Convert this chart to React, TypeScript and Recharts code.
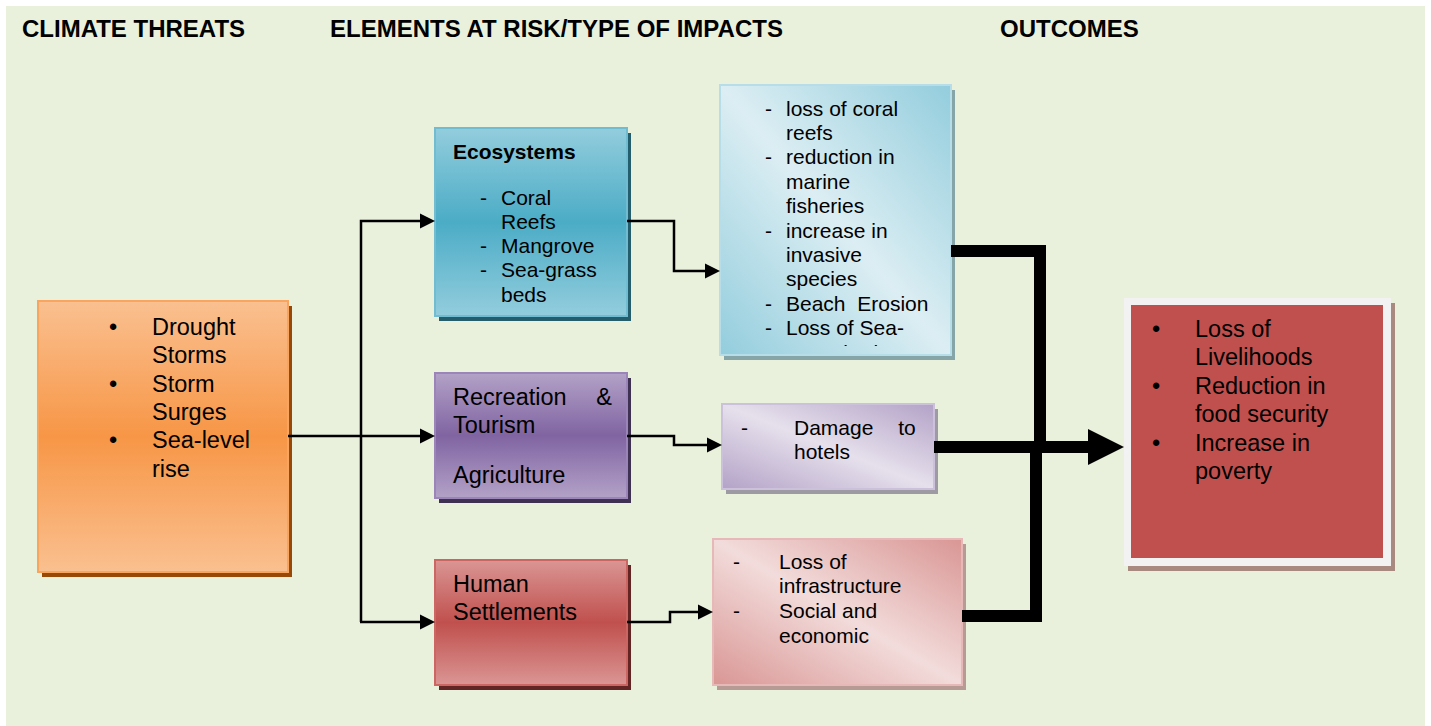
import React from 'react';
import { ComposedChart, XAxis, YAxis, Scatter, ReferenceArea } from 'recharts';

// ---- content ----
const headers = ['CLIMATE THREATS', 'ELEMENTS AT RISK/TYPE OF IMPACTS', 'OUTCOMES'];
const climateThreats = [['Drought', 'Storms'], ['Storm', 'Surges'], ['Sea-level', 'rise']];
const ecosystemTitle = 'Ecosystems';
const ecosystems = [['Coral', 'Reefs'], ['Mangrove'], ['Sea-grass', 'beds']];
const tourismLines = [['Recreation &', 'Tourism']];
const agricultureLines = [['Agriculture']];
const settlementLines = [['Human', 'Settlements']];
const ecosystemImpacts = [
    ['loss of coral', 'reefs'],
    ['reduction in', 'marine', 'fisheries'],
    ['increase in', 'invasive', 'species'],
    ['Beach  Erosion'],
    ['Loss of Sea-', 'grass beds'],
];
const tourismImpacts = [['Damage to', 'hotels']];
const settlementImpacts = [['Loss of', 'infrastructure'], ['Social and', 'economic']];
const outcomes = [['Loss of', 'Livelihoods'], ['Reduction in', 'food security'], ['Increase in', 'poverty']];

// ---- layout (page pixels) ----
const W = 1431;
const H = 726;
const FONT = '"Liberation Sans", Arial, Helvetica, sans-serif';

const headerX = [22, 330, 1000];

const textBlocks = [
    { items: climateThreats, marker: '\u2022', markerX: 109, x: 152, y0: 327, step: 28.3, size: 23.5 },
    { items: [[ecosystemTitle]], x: 453, y0: 151, step: 24, size: 21, weight: 'bold' },
    { items: ecosystems, marker: '-', markerX: 480, x: 501, y0: 197, step: 24.3, size: 21 },
    { items: tourismLines, x: 453, y0: 397, step: 28, size: 23.5, ws: 23 },
    { items: agricultureLines, x: 453, y0: 475, step: 28, size: 23.5 },
    { items: settlementLines, x: 453, y0: 584, step: 27.5, size: 23.5 },
    { items: ecosystemImpacts, marker: '-', markerX: 765, x: 786, y0: 108, step: 24.4, size: 21, clip: 'clip-eco-impacts' },
    { items: tourismImpacts, marker: '-', markerX: 741, x: 794, y0: 427, step: 24, size: 21, ws: 19 },
    { items: settlementImpacts, marker: '-', markerX: 733, x: 779, y0: 561, step: 24.7, size: 21 },
    { items: outcomes, marker: '\u2022', markerX: 1152, x: 1195, y0: 329, step: 28.4, size: 23.5 },
];

const boxLayout = [
    { id: 'threats', x1: 38, x2: 288, y1: 301, y2: 572, fill: 'vertical', light: '#FAC090', dark: '#F79646', border: '#F9A55F', shadow: '#984807' },
    { id: 'eco', x1: 435, x2: 627, y1: 128, y2: 316, fill: 'vertical', light: '#93CDDD', dark: '#4BACC6', border: '#72BCD2', shadow: '#245E6D' },
    { id: 'tourism', x1: 435, x2: 627, y1: 373, y2: 498, fill: 'vertical', light: '#B3A2C7', dark: '#8064A2', border: '#9A84B8', shadow: '#3F3151' },
    { id: 'settle', x1: 435, x2: 627, y1: 560, y2: 685, fill: 'vertical', light: '#DA9694', dark: '#C0504D', border: '#CB6663', shadow: '#632523' },
    { id: 'ecoImp', x1: 720, x2: 951, y1: 85, y2: 355, fill: 'diagonal', light: '#DCEEF3', dark: '#93CDDD', border: '#B7DEE8', shadow: '#86A5A9' },
    { id: 'tourImp', x1: 722, x2: 934, y1: 404, y2: 489, fill: 'diagonal', light: '#E6E0EC', dark: '#B3A2C7', border: '#CCC1DA', shadow: '#9E9AA3' },
    { id: 'setImp', x1: 713, x2: 962, y1: 539, y2: 685, fill: 'diagonal', light: '#F2DCDB', dark: '#D99694', border: '#E6B9B8', shadow: '#B89A95' },
    { id: 'outFrame', x1: 1124, x2: 1391, y1: 298, y2: 566, fill: 'flat', light: '#F2F2F2', dark: '#F2F2F2', border: 'none', shadow: '#A88A80' },
    { id: 'outInner', x1: 1131, x2: 1383, y1: 305, y2: 558, fill: 'flat', light: '#C0504D', dark: '#C0504D', border: 'none', shadow: 'none' },
];

const ecoImpactClip = { x1: 720, x2: 951, y1: 85, y2: 346 };

// connectors: polylines, arrow at the last point
const connectors = [
    { pts: [[288, 436], [435, 436]], width: 2.5, arrow: [15, 7.5] },
    { pts: [[361, 622], [361, 221], [435, 221]], width: 2.5, arrow: [15, 7.5] },
    { pts: [[360, 622], [435, 622]], width: 2.5, arrow: [15, 7.5] },
    { pts: [[627, 221], [674, 221], [674, 271], [720, 271]], width: 2.5, arrow: [15, 7.5] },
    { pts: [[627, 436], [674, 436], [674, 445], [722, 445]], width: 2.5, arrow: [15, 7.5] },
    { pts: [[627, 622], [670, 622], [670, 612], [713, 612]], width: 2.5, arrow: [15, 7.5] },
    { pts: [[951, 251], [1040, 251], [1040, 447]], width: 12 },
    { pts: [[962, 616], [1036, 616], [1036, 447]], width: 12 },
    { pts: [[934, 447], [1124, 447]], width: 12, arrow: [36, 18] },
];

// ---- build tables ----
type Row = { x: number; y: number; text: string; size: number; weight?: string; clip?: string; ws?: number };

const textRows: Row[] = [];
headers.forEach((h, i) => textRows.push({ x: headerX[i], y: 28, text: h, size: 24, weight: 'bold' }));
textBlocks.forEach((b) => {
    let line = 0;
    b.items.forEach((item) => {
        item.forEach((t, j) => {
            const y = b.y0 + line * b.step;
            if (j === 0 && b.marker) textRows.push({ x: b.markerX, y, text: b.marker, size: b.size, clip: b.clip });
            textRows.push({ x: b.x, y, text: t, size: b.size, weight: b.weight, clip: b.clip, ws: j === 0 ? b.ws : undefined });
            line += 1;
        });
    });
});

const lineData = connectors.map((c) => {
    const pts = c.pts.map(([x, y]) => ({ x, y }));
    if (!c.arrow) return { pts, head: null };
    const tip = pts[pts.length - 1];
    const prev = pts[pts.length - 2];
    const len = Math.hypot(tip.x - prev.x, tip.y - prev.y);
    const dx = (tip.x - prev.x) / len;
    const dy = (tip.y - prev.y) / len;
    const trimmed = pts.slice(0, -1).concat([{ x: tip.x - dx * (c.arrow[0] - 1), y: tip.y - dy * (c.arrow[0] - 1) }]);
    return { pts: trimmed, head: { x: tip.x, y: tip.y, dx, dy, len: c.arrow[0], half: c.arrow[1] } };
});
const arrowHeads = lineData.filter((d) => d.head).map((d) => d.head);

// ---- renderers ----
const renderBox = (b: any) => (props: any) => {
    const { x, y, width, height } = props;
    const gid = `grad-${b.id}`;
    const diag = b.fill === 'diagonal';
    return (
        <g>
            <defs>
                <linearGradient id={gid} x1={diag ? 1 : 0} y1={0} x2={0} y2={1}>
                    <stop offset="0" stopColor={diag ? b.dark : b.light} />
                    <stop offset="0.5" stopColor={diag ? b.light : b.dark} />
                    <stop offset="1" stopColor={diag ? b.dark : b.light} />
                </linearGradient>
                {b.id === 'ecoImp' && (
                    <clipPath id="clip-eco-impacts">
                        <rect x={ecoImpactClip.x1} y={ecoImpactClip.y1} width={ecoImpactClip.x2 - ecoImpactClip.x1} height={ecoImpactClip.y2 - ecoImpactClip.y1} />
                    </clipPath>
                )}
            </defs>
            {b.shadow !== 'none' && <rect x={x + 4} y={y + 5} width={width} height={height} fill={b.shadow} />}
            <rect x={x} y={y} width={width} height={height} fill={`url(#${gid})`} stroke={b.border} strokeWidth={b.border === 'none' ? 0 : 2} />
        </g>
    );
};

const TextMark = (props: any) => {
    const { cx, cy, payload } = props;
    return (
        <text
            x={cx}
            y={cy}
            fontSize={payload.size}
            fontWeight={payload.weight || 'normal'}
            fontFamily={FONT}
            dominantBaseline="central"
            fill="#000"
            wordSpacing={payload.ws}
            clipPath={payload.clip ? `url(#${payload.clip})` : undefined}
            style={{ whiteSpace: 'pre' }}
        >
            {payload.text}
        </text>
    );
};

const ArrowHead = (props: any) => {
    const { cx, cy, payload } = props;
    const { dx, dy, len, half } = payload;
    const bx = cx - dx * len;
    const by = cy - dy * len;
    const pts = `${cx},${cy} ${bx - dy * half},${by + dx * half} ${bx + dy * half},${by - dx * half}`;
    return <polygon points={pts} fill="#000" />;
};

const NoDot = () => <g />;

export default function App() {
    return (
        <div style={{ position: 'absolute', left: 0, top: 0, width: W, height: H, background: '#fff' }}>
            <ComposedChart width={W} height={H} margin={{ top: 0, right: 0, bottom: 0, left: 0 }}>
                <XAxis type="number" dataKey="x" domain={[0, W]} allowDataOverflow hide />
                <YAxis type="number" dataKey="y" domain={[0, H]} allowDataOverflow reversed hide />
                <ReferenceArea x1={6} x2={1425} y1={6} y2={H} fill="#E9F1DD" fillOpacity={1} stroke="none" ifOverflow="visible" />
                {boxLayout.map((b) => (
                    <ReferenceArea key={b.id} x1={b.x1} x2={b.x2} y1={b.y1} y2={b.y2} ifOverflow="visible" shape={renderBox(b)} />
                ))}
                {lineData.map((d, i) => (
                    <Scatter
                        key={`conn-${i}`}
                        data={d.pts}
                        line={{ stroke: '#000', strokeWidth: connectors[i].width, strokeLinejoin: 'miter', fill: 'none' }}
                        lineType="joint"
                        shape={NoDot}
                        isAnimationActive={false}
                    />
                ))}
                <Scatter data={arrowHeads} shape={ArrowHead} isAnimationActive={false} />
                <Scatter data={textRows} shape={TextMark} isAnimationActive={false} />
            </ComposedChart>
        </div>
    );
}
